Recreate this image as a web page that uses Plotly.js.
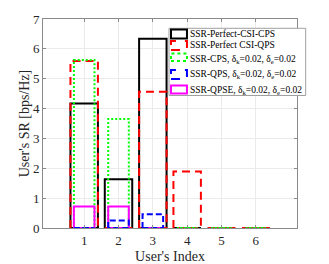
<!DOCTYPE html>
<html>
<head>
<meta charset="utf-8">
<script src="https://cdn.plot.ly/plotly-3.0.1.min.js"></script>
<style>html,body{margin:0;padding:0;background:#fff;}#chart{width:329px;height:264px;}</style>
</head>
<body>
<div id="chart"></div>
<script>
// ---- data ----
var users = [1, 2, 3, 4, 5, 6];
var tickLabels = ['1', '2', '3', '4', '5', '6'];
var perfectCPS = [4.17, 1.63, 6.34, 0, 0, 0];
var perfectQPS = [5.59, 0, 4.56, 1.89, 0, 0];
var ssrCPS = [5.63, 3.65, 0, 0, 0, 0];
var ssrQPS = [0, 0.25, 0.46, null, null, null];
var ssrQPSE = [0.72, 0.72, 0, null, null, null];
var seriesNames = [
  'SSR-Perfect-CSI-CPS',
  'SSR-Perfect CSI-QPS',
  'SSR-CPS, δ<sub>k</sub>=0.02, δ<sub>e</sub>=0.02',
  'SSR-QPS, δ<sub>k</sub>=0.02, δ<sub>e</sub>=0.02',
  'SSR-QPSE, δ<sub>k</sub>=0.02, δ<sub>e</sub>=0.02'
];

// ---- styles ----
var FONT = 'Liberation Serif, Times New Roman, serif';
var styles = [
  {vals: perfectCPS, w: 0.8, color: '#000000', dash: 'solid', lw: 2},
  {vals: perfectQPS, w: 0.8, color: '#ff0000', dash: '8px,5px', lw: 2},
  {vals: ssrCPS, w: 0.6, color: '#00ff00', dash: '2px,2px', lw: 2},
  {vals: ssrQPSE, w: 0.6, color: '#ff00ff', dash: 'solid', lw: 2},
  {vals: ssrQPS, w: 0.6, color: '#0000ff', dash: '6px,3px', lw: 2}
];

function outline(xs, vals, w) {
  var X = [], Y = [];
  for (var i = 0; i < xs.length; i++) {
    var v = vals[i];
    if (v === null || v === undefined) continue;
    var a = xs[i] - w / 2, b = xs[i] + w / 2;
    X.push(a, a, b, b, a, null);
    Y.push(0, v, v, 0, 0, null);
  }
  return {x: X, y: Y};
}

var traces = styles.map(function (s) {
  var o = outline(users, s.vals, s.w);
  return {
    type: 'scatter', mode: 'lines', x: o.x, y: o.y,
    line: {color: s.color, width: s.lw, dash: s.dash},
    connectgaps: false, showlegend: false, hoverinfo: 'skip', cliponaxis: false
  };
});

// ---- layout geometry ----
var L = 42.7, R = 297.3, T = 19, B = 228;
function px(p) { return (p - L) / (R - L); }
function py(p) { return 1 - (p - T) / (B - T); }

var legendOrder = [
  {color: '#000000', dash: 'solid', y0: 29.5, y1: 38.5, ty: 34.3},
  {color: '#ff0000', dash: 'dash', y0: 41, y1: 50, ty: 45.2},
  {color: '#00ff00', dash: 'dot', y0: 53.5, y1: 61, ty: 59.5},
  {color: '#0000ff', dash: 'dash', y0: 70, y1: 79, ty: 74.5},
  {color: '#ff00ff', dash: 'solid', y0: 85.5, y1: 93.5, ty: 90}
];

var shapes = [{
  type: 'rect', xref: 'paper', yref: 'paper',
  x0: px(169), x1: px(306), y0: py(95.5), y1: py(28.3),
  line: {color: '#a0a0a0', width: 1}, fillcolor: '#ffffff', layer: 'above'
}];
var annotations = [];
legendOrder.forEach(function (e, i) {
  shapes.push({
    type: 'rect', xref: 'paper', yref: 'paper',
    x0: px(171), x1: px(187), y0: py(e.y1), y1: py(e.y0),
    line: {color: e.color, width: 2, dash: e.dash}, fillcolor: 'rgba(0,0,0,0)', layer: 'above'
  });
  annotations.push({
    xref: 'paper', yref: 'paper', x: px(188.5), y: py(e.ty),
    xanchor: 'left', yanchor: 'middle', showarrow: false,
    text: seriesNames[i], font: {family: FONT, size: 9.5, color: '#000000'}
  });
});

var layout = {
  width: 329, height: 264,
  margin: {l: L, r: 329 - R, t: T, b: 264 - B, pad: 0},
  paper_bgcolor: '#ffffff', plot_bgcolor: '#ffffff',
  showlegend: false,
  font: {family: FONT, color: '#262626'},
  xaxis: {
    range: [-0.2, 7.2], tickvals: users, ticktext: tickLabels,
    showgrid: true, gridcolor: '#ebebeb', gridwidth: 1, zeroline: false,
    showline: true, linecolor: '#8a8a8a', linewidth: 1, mirror: 'ticks',
    ticks: 'inside', ticklen: 3, tickcolor: '#8a8a8a',
    tickfont: {family: FONT, size: 13, color: '#262626'},
    title: {text: "User's Index", font: {family: FONT, size: 14, color: '#262626'}, standoff: 4}
  },
  yaxis: {
    range: [0, 7], tick0: 0, dtick: 1,
    showgrid: true, gridcolor: '#ebebeb', gridwidth: 1, zeroline: false,
    showline: true, linecolor: '#8a8a8a', linewidth: 1, mirror: 'ticks',
    ticks: 'inside', ticklen: 3, tickcolor: '#8a8a8a',
    tickfont: {family: FONT, size: 13, color: '#262626'},
    title: {text: "User's SR [bps/Hz]", font: {family: FONT, size: 14, color: '#262626'}, standoff: 0}
  },
  shapes: shapes,
  annotations: annotations
};

Plotly.newPlot('chart', traces, layout, {displayModeBar: false, staticPlot: true});
</script>
</body>
</html>
